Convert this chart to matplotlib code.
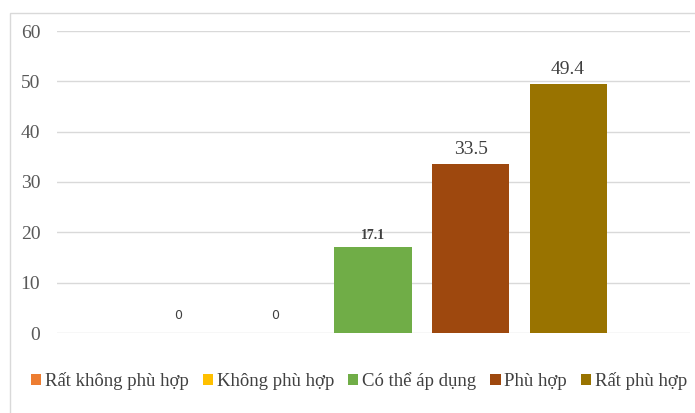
import matplotlib
matplotlib.use("Agg")
import matplotlib.pyplot as plt
from matplotlib.patches import Rectangle, Patch

categories = ["Rất không phù hợp", "Không phù hợp", "Có thể áp dụng", "Phù hợp", "Rất phù hợp"]
values = [0, 0, 17.1, 33.5, 49.4]
colors = ["#ED7D31", "#FFC000", "#70AD47", "#9E480E", "#997300"]
yticks = [0, 10, 20, 30, 40, 50, 60]

plt.rcParams['font.family'] = ['Liberation Serif', 'DejaVu Serif']

fig = plt.figure(figsize=(6.95, 4.13), dpi=100)

# outer chart frame
fig.patches.append(Rectangle((10 / 695, -0.05), 1.0, 1 - 13 / 413 + 0.05,
                             transform=fig.transFigure, fill=False,
                             edgecolor="#d9d9d9", linewidth=1.0))

ax = fig.add_axes([57 / 695, 80 / 413, 633 / 695, 302 / 413])
x = list(range(len(categories)))
bars = ax.bar(x, values, width=0.79, color=colors, zorder=3)

ax.set_ylim(0, 60)
ax.set_xlim(-1.24, 5.25)
ax.set_yticks(yticks)
ax.set_yticklabels([str(t) for t in yticks], color="#595959", fontsize=14)
ax.set_xticks([])
ax.tick_params(axis="y", length=0, pad=12)
ax.grid(axis="y", color="#d9d9d9", linewidth=1.0, zorder=0)
for s in ax.spines.values():
    s.set_visible(False)

# data labels
for xi, v in zip(x, values):
    if v == 0:
        ax.text(xi, v + 2.2, "0", ha="center", va="bottom", fontsize=9,
                color="#404040", family="DejaVu Sans")
    elif v < 20:
        ax.text(xi, v + 1.0, f"{v:g}", ha="center", va="bottom", fontsize=10,
                fontweight="bold", color="#404040")
    else:
        ax.text(xi, v + 1.2, f"{v:g}", ha="center", va="bottom", fontsize=14,
                color="#404040")

handles = [Patch(facecolor=c, edgecolor="none") for c in colors]
fig.legend(handles, categories, loc="center left", bbox_to_anchor=(0.025, 1 - 381 / 413),
           ncol=5, frameon=False, handlelength=0.55, handleheight=0.55,
           handletextpad=0.2, columnspacing=0.75, labelcolor="#404040",
           borderpad=0.2, prop={"family": "Liberation Serif", "size": 13.5})

fig.savefig("out.png", dpi=100)
